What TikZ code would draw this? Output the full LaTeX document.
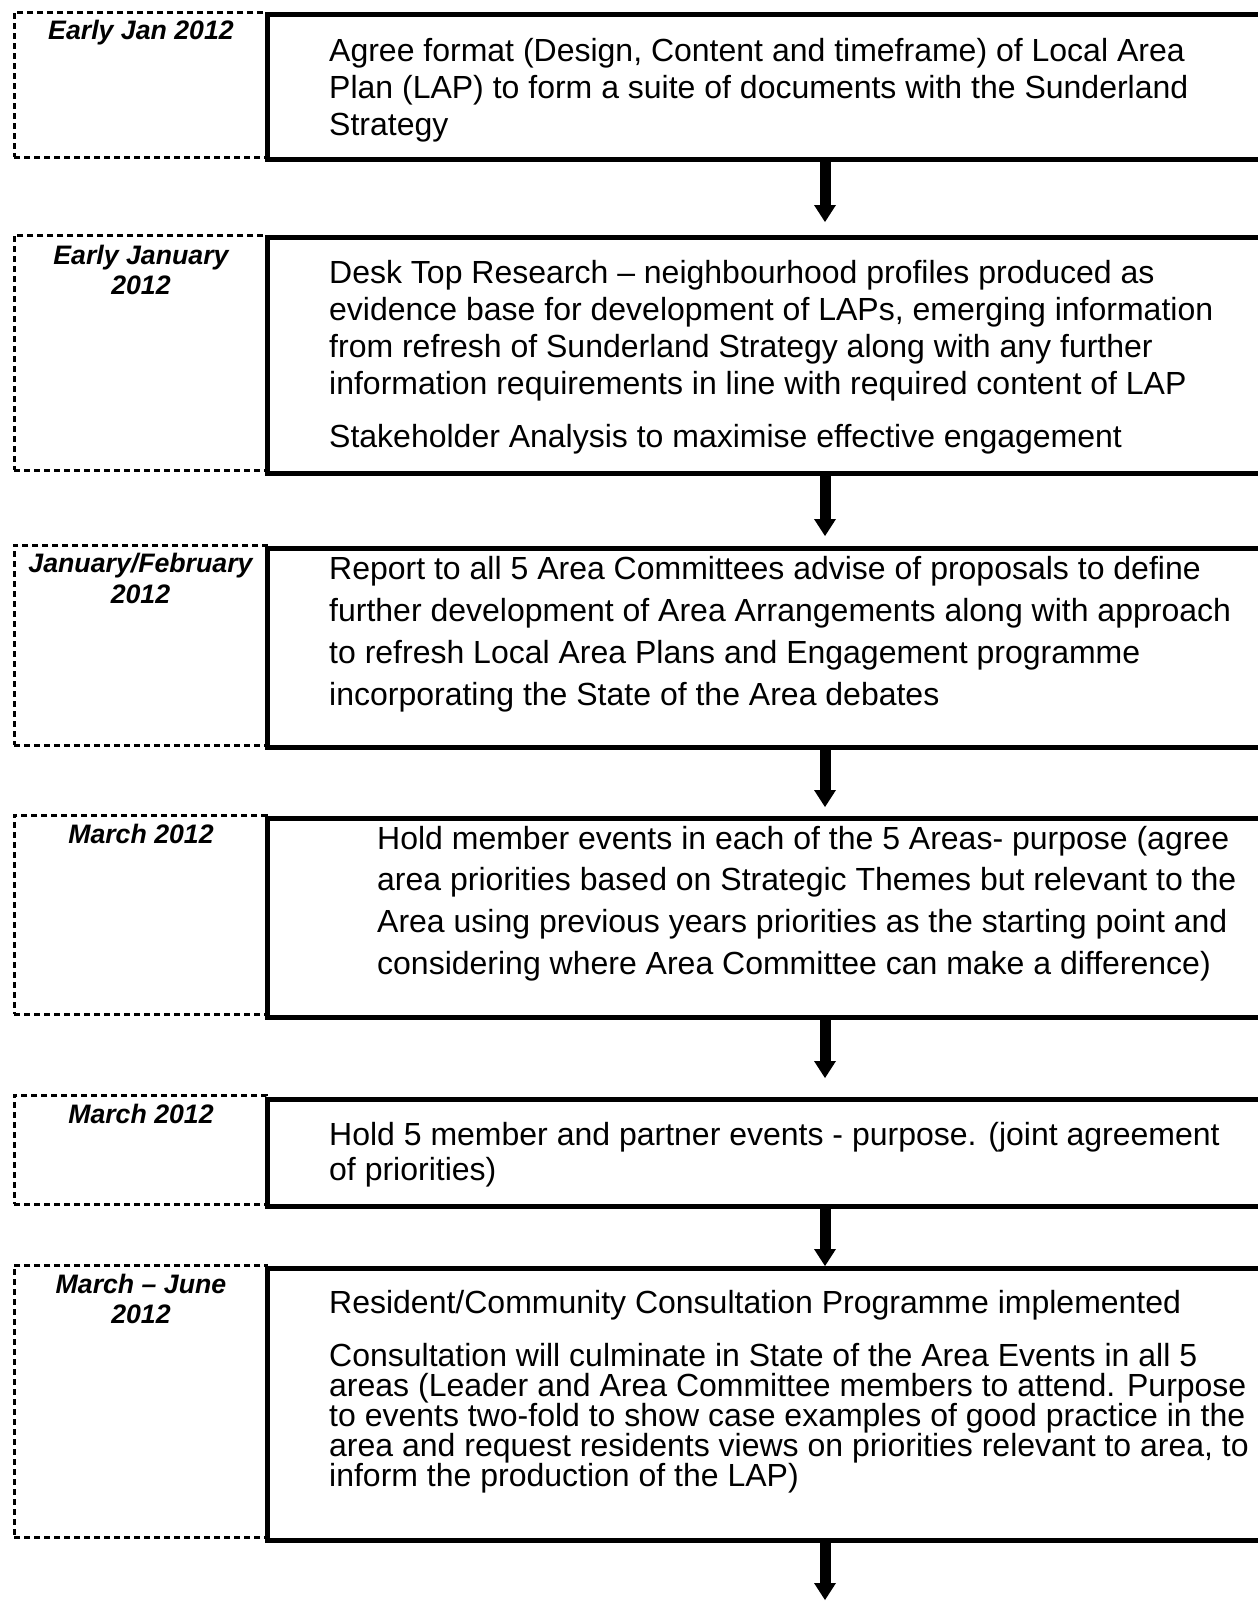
\documentclass[tikz,border=0pt]{standalone}
\usepackage{fontspec}
\setmainfont{Liberation Sans}
\usetikzlibrary{arrows.meta}
\begin{document}
\begin{tikzpicture}[x=1pt,y=-1pt,
  datebox/.style={draw=black, line width=2.5pt, dash pattern=on 6pt off 4pt, inner sep=0pt, anchor=north west, minimum width=252pt},
  mainbox/.style={draw=black, line width=4.5pt, inner sep=0pt, anchor=north west, minimum width=999pt},
  datetext/.style={inner sep=0pt, anchor=north, align=center, font=\fontsize{26.7}{30.5}\selectfont\bfseries\itshape},
  bodytext/.style={inner sep=0pt, anchor=north west, align=left},
  flow/.style={line width=11pt, -{Triangle[width=22pt,length=17pt,line width=0pt]}}
]
\useasboundingbox (0,0) rectangle (1258,1610);
\clip (0,0) rectangle (1258,1610);

% date boxes (dashed)
\node[datebox, minimum height=145pt] (d1) at (13,11) {};
\node[datebox, minimum height=235pt] (d2) at (13,234) {};
\node[datebox, minimum height=200pt] (d3) at (13,544) {};
\node[datebox, minimum height=199pt] (d4) at (13,814) {};
\node[datebox, minimum height=109pt] (d5) at (13,1094) {};
\node[datebox, minimum height=272pt] (d6) at (13,1264) {};

% main boxes
\node[mainbox, minimum height=145pt] (m1) at (265,12) {};
\node[mainbox, minimum height=236pt] (m2) at (265,235) {};
\node[mainbox, minimum height=199pt] (m3) at (265,546) {};
\node[mainbox, minimum height=199pt] (m4) at (265,816) {};
\node[mainbox, minimum height=107pt] (m5) at (265,1097) {};
\node[mainbox, minimum height=272pt] (m6) at (265,1266) {};

% dates
\node[datetext] (t1) at (141,18) {\rule{0pt}{21pt}Early Jan 2012};
\node[datetext, font=\fontsize{26.7}{30}\selectfont\bfseries\itshape] (t2) at (141,243) {\rule{0pt}{21pt}Early January\\2012};
\node[datetext, font=\fontsize{26.7}{31}\selectfont\bfseries\itshape] (t3) at (140.5,551) {\rule{0pt}{21pt}January/February\\2012};
\node[datetext] (t4) at (141,822) {\rule{0pt}{21pt}March 2012};
\node[datetext] (t5) at (141,1102) {\rule{0pt}{21pt}March 2012};
\node[datetext, font=\fontsize{26.7}{30}\selectfont\bfseries\itshape] (t6) at (141,1272) {\rule{0pt}{21pt}March – June\\2012};

% body texts
\node[bodytext, font=\fontsize{32}{37}\selectfont] (b1) at (329,35) {\rule{0pt}{26pt}Agree format (Design, Content and timeframe) of Local Area\\Plan (LAP) to form a suite of documents with the Sunderland\\Strategy};
\node[bodytext, font=\fontsize{32}{37}\selectfont] (b2) at (329,257) {\rule{0pt}{26pt}Desk Top Research – neighbourhood profiles produced as\\evidence base for development of LAPs, emerging information\\from refresh of Sunderland Strategy along with any further\\information requirements in line with required content of LAP\\[16pt]Stakeholder Analysis to maximise effective engagement};
\node[bodytext, font=\fontsize{32}{42}\selectfont] (b3) at (329,553) {\rule{0pt}{26pt}Report to all 5 Area Committees advise of proposals to define\\further development of Area Arrangements along with approach\\to refresh Local Area Plans and Engagement programme\\incorporating the State of the Area debates};
\node[bodytext, font=\fontsize{32}{41.7}\selectfont] (b4) at (377,823) {\rule{0pt}{26pt}Hold member events in each of the 5 Areas- purpose (agree\\area priorities based on Strategic Themes but relevant to the\\Area using previous years priorities as the starting point and\\considering where Area Committee can make a difference)};
\node[bodytext, font=\fontsize{32}{35}\selectfont] (b5) at (329,1119) {\rule{0pt}{26pt}Hold 5 member and partner events - purpose. (joint agreement\\of priorities)};
\node[bodytext, font={\lineskiplimit=-20pt\relax\fontsize{32}{30}\selectfont}] (b6) at (329,1287) {\rule{0pt}{26pt}Resident/Community Consultation Programme implemented\\[23pt]Consultation will culminate in State of the Area Events in all 5\\areas (Leader and Area Committee members to attend. Purpose\\to events two-fold to show case examples of good practice in the\\area and request residents views on priorities relevant to area, to\\inform the production of the LAP)};

% connectors
\coordinate (ax) at (825,0);
\coordinate (end6) at (825,1600);
\draw[flow, shorten >=13pt] (m1.south -| ax) -- (m2.north -| ax);
\draw[flow, shorten >=10pt] (m2.south -| ax) -- (m3.north -| ax);
\draw[flow, shorten >=9pt] (m3.south -| ax) -- (m4.north -| ax);
\draw[flow, shorten >=19pt] (m4.south -| ax) -- (m5.north -| ax);
\draw[flow] (m5.south -| ax) -- (m6.north -| ax);
\draw[flow] (m6.south -| ax) -- (end6);
\end{tikzpicture}
\end{document}
